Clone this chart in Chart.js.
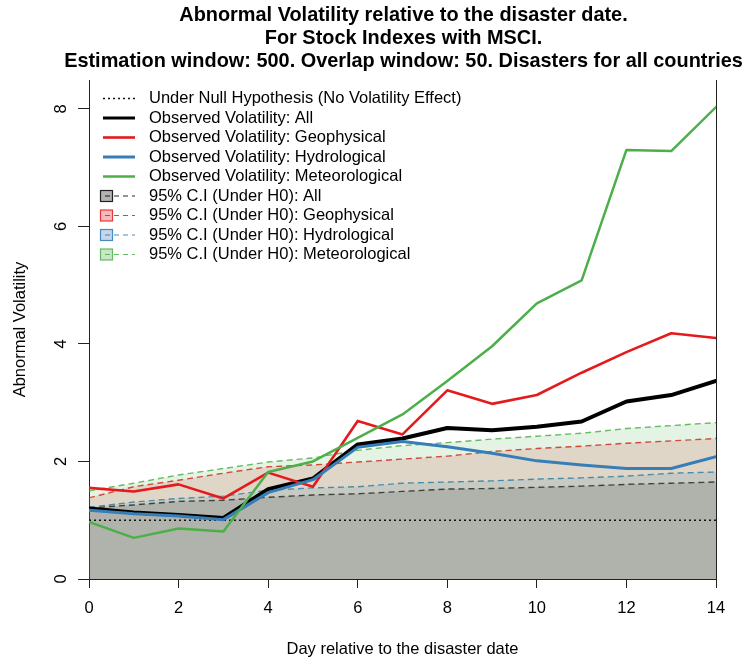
<!DOCTYPE html>
<html>
<head>
<meta charset="utf-8">
<script src="https://cdn.jsdelivr.net/npm/chart.js@4.4.1/dist/chart.umd.min.js"></script>
<style>
  html, body { margin: 0; padding: 0; background: #ffffff; }
  #wrap { width: 742px; height: 660px; }
</style>
</head>
<body>
<div id="wrap"><canvas id="chart" width="742" height="660"></canvas></div>
<script>
// Days relative to the disaster date
const days = [0, 1, 2, 3, 4, 5, 6, 7, 8, 9, 10, 11, 12, 13, 14];
const xTicks = [0, 2, 4, 6, 8, 10, 12, 14];
const yTicks = [0, 2, 4, 6, 8];
const nullLevel = [1, 1, 1, 1, 1, 1, 1, 1, 1, 1, 1, 1, 1, 1, 1];

// Observed abnormal volatility by disaster group
const obsAll   = [1.20, 1.13, 1.09, 1.04, 1.53, 1.71, 2.29, 2.39, 2.57, 2.53, 2.59, 2.68, 3.02, 3.13, 3.37];
const obsGeo   = [1.55, 1.49, 1.61, 1.37, 1.81, 1.57, 2.69, 2.46, 3.21, 2.98, 3.13, 3.51, 3.86, 4.18, 4.10];
const obsHydro = [1.17, 1.11, 1.07, 1.01, 1.47, 1.69, 2.24, 2.34, 2.25, 2.14, 2.01, 1.94, 1.88, 1.88, 2.08];
const obsMeteo = [0.97, 0.70, 0.86, 0.81, 1.82, 2.00, 2.40, 2.80, 3.37, 3.96, 4.69, 5.08, 7.30, 7.28, 8.03];

// Upper bound of the 95% confidence interval under H0
const ciAll   = [1.21, 1.26, 1.32, 1.34, 1.39, 1.43, 1.45, 1.49, 1.53, 1.54, 1.56, 1.58, 1.61, 1.63, 1.65];
const ciGeo   = [1.38, 1.57, 1.68, 1.80, 1.91, 1.94, 1.99, 2.04, 2.09, 2.17, 2.22, 2.26, 2.31, 2.35, 2.39];
const ciHydro = [1.22, 1.31, 1.37, 1.41, 1.51, 1.55, 1.57, 1.63, 1.65, 1.67, 1.70, 1.72, 1.75, 1.80, 1.82];
const ciMeteo = [1.50, 1.63, 1.77, 1.88, 1.99, 2.06, 2.19, 2.27, 2.32, 2.38, 2.43, 2.48, 2.56, 2.61, 2.66];

const titleLines = [
  'Abnormal Volatility relative to the disaster date.',
  'For Stock Indexes with MSCI.',
  'Estimation window: 500. Overlap window: 50. Disasters for all countries'
];
const xTitle = 'Day relative to the disaster date';
const yTitle = 'Abnormal Volatility';

const FONT = '"Liberation Sans", Arial, Helvetica, sans-serif';
const BLACK = '#000000';
const RED = '#E41A1C';
const BLUE = '#377EB8';
const GREEN = '#4DAF4A';

function pts(arr) { return days.map((d, i) => ({ x: d, y: arr[i] })); }

function observed(label, arr, color, width, order) {
  return {
    label, data: pts(arr), borderColor: color, borderWidth: width,
    pointRadius: 0, tension: 0, fill: false, order,
    borderJoinStyle: 'round', borderCapStyle: 'round', kind: 'line'
  };
}
function band(label, arr, line, fillCol, order) {
  return {
    label, data: pts(arr), borderColor: line, borderWidth: 1.4,
    borderDash: [6, 4], backgroundColor: fillCol, fill: 'origin',
    pointRadius: 0, tension: 0, order, kind: 'ci'
  };
}

// Higher "order" is painted first: CI bands (All, Geo, Hydro, Meteo) underneath the observed lines
const datasets = [
  { label: 'Under Null Hypothesis (No Volatility Effect)', data: pts(nullLevel),
    borderColor: '#111111', borderWidth: 1.6, borderDash: [2, 3], pointRadius: 0,
    fill: false, order: 5, kind: 'dot' },
  observed('Observed Volatility: All', obsAll, BLACK, 4, 4),
  observed('Observed Volatility: Geophysical', obsGeo, RED, 2.6, 3),
  observed('Observed Volatility: Hydrological', obsHydro, BLUE, 3, 2),
  observed('Observed Volatility: Meteorological', obsMeteo, GREEN, 2.5, 1),
  band('95% C.I (Under H0): All', ciAll, 'rgba(0,0,0,0.85)', 'rgba(0,0,0,0.15)', 9),
  band('95% C.I (Under H0): Geophysical', ciGeo, 'rgba(228,26,28,0.85)', 'rgba(228,26,28,0.15)', 8),
  band('95% C.I (Under H0): Hydrological', ciHydro, 'rgba(55,126,184,0.9)', 'rgba(55,126,184,0.15)', 7),
  band('95% C.I (Under H0): Meteorological', ciMeteo, 'rgba(77,175,74,0.85)', 'rgba(77,175,74,0.15)', 6)
];

// Titles, rotated y labels and the R-style legend
const decor = {
  id: 'decor',
  afterDraw(chart) {
    const { ctx, chartArea: a, scales: { y } } = chart;
    const cx = (a.left + a.right) / 2;
    ctx.save();
    ctx.fillStyle = '#000';
    ctx.textAlign = 'center';
    ctx.textBaseline = 'middle';

    ctx.font = 'bold 19.9px ' + FONT;
    titleLines.forEach((t, i) => ctx.fillText(t, cx + 1, 16 + i * 23));

    ctx.font = '16.5px ' + FONT;
    yTicks.forEach(v => {
      ctx.save();
      ctx.translate(61, y.getPixelForValue(v));
      ctx.rotate(-Math.PI / 2);
      ctx.fillText(String(v), 0, 0);
      ctx.restore();
    });
    ctx.fillText(xTitle, cx, 649);
    ctx.save();
    ctx.translate(20, (a.top + a.bottom) / 2);
    ctx.rotate(-Math.PI / 2);
    ctx.fillText(yTitle, 0, 0);
    ctx.restore();

    // legend
    const x0 = 103, x1 = 135, tx = 149;
    ctx.textAlign = 'left';
    datasets.forEach((ds, i) => {
      const yy = 98.5 + i * 19.5;
      ctx.save();
      ctx.strokeStyle = ds.borderColor;
      ctx.lineWidth = Math.min(ds.borderWidth, 3);
      if (ds.kind === 'ci') {
        ctx.fillStyle = ds.backgroundColor.replace('0.15', '0.3');
        ctx.fillRect(100.5, yy - 5.5, 12, 11);
        ctx.lineWidth = 1.2;
        ctx.strokeRect(100.5, yy - 5.5, 12, 11);
        ctx.setLineDash([5, 4]);
        ctx.beginPath(); ctx.moveTo(105, yy); ctx.lineTo(x1, yy); ctx.stroke();
      } else {
        ctx.setLineDash(ds.borderDash || []);
        ctx.beginPath(); ctx.moveTo(x0, yy); ctx.lineTo(x1, yy); ctx.stroke();
      }
      ctx.restore();
      ctx.fillText(ds.label, tx, yy);
    });
    ctx.restore();
  }
};

new Chart(document.getElementById('chart'), {
  type: 'line',
  data: { datasets },
  options: {
    responsive: false,
    animation: false,
    devicePixelRatio: 1,
    layout: { padding: { top: 80, right: 26, left: 0, bottom: 0 } },
    plugins: { legend: { display: false }, tooltip: { enabled: false }, title: { display: false } },
    scales: {
      x: {
        type: 'linear', min: 0, max: 14,
        afterBuildTicks: s => { s.ticks = xTicks.map(v => ({ value: v })); },
        afterFit: s => { s.height = 81; },
        border: { display: true, color: '#222', width: 1 },
        grid: {
          drawOnChartArea: true, drawTicks: true, tickLength: 9, tickColor: '#222', lineWidth: 1,
          color: c => (c.tick && c.tick.value === 14) ? '#222' : 'rgba(0,0,0,0)'
        },
        ticks: { color: '#000', padding: 11, maxRotation: 0, autoSkip: false,
                 font: { family: FONT, size: 16.5 } }
      },
      y: {
        type: 'linear', min: 0, max: 8.49,
        afterBuildTicks: s => { s.ticks = yTicks.map(v => ({ value: v })); },
        afterFit: s => { s.width = 89; },
        border: { display: true, color: '#222', width: 1 },
        grid: { drawOnChartArea: false, drawTicks: true, tickLength: 11, tickColor: '#222' },
        ticks: { display: false }
      }
    }
  },
  plugins: [decor]
});
</script>
</body>
</html>
